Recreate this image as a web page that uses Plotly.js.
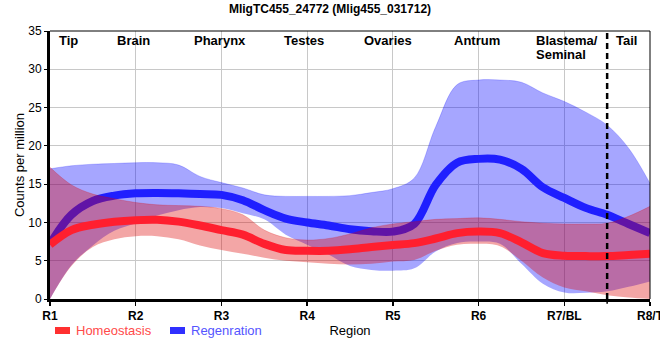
<!DOCTYPE html>
<html>
<head>
<meta charset="utf-8">
<script src="https://cdn.plot.ly/plotly-3.0.1.min.js"></script>
<style>html,body{margin:0;padding:0;background:#fff;}#chart{width:660px;height:360px;}</style>
</head>
<body>
<div id="chart"></div>
<script>
// Region positions along the body axis (R1..R8)
const regionX = [1,1.25,1.5,1.75,2,2.25,2.5,2.75,3,3.25,3.5,3.75,4,4.25,4.5,4.75,5,5.25,5.5,5.75,6,6.25,6.5,6.75,7,7.25,7.5,7.75,8];
const tickVals = [1,2,3,4,5,6,7,8];
const tickLabels = ['R1','R2','R3','R4','R5','R6','R7/BL','R8/T'];
const tissueNames = ['Tip','Brain','Pharynx','Testes','Ovaries','Antrum','Blastema/','Seminal','Tail'];
const tissueX = [1.22,1.97,2.98,3.96,4.94,5.98,6.647,6.647,7.73];

// Homeostasis
const homeoMean  = [7.1,9.0,9.7,10.1,10.3,10.35,10.1,9.6,9.0,8.4,7.2,6.4,6.3,6.3,6.5,6.8,7.05,7.3,7.9,8.6,8.8,8.6,7.4,6.0,5.65,5.6,5.6,5.75,5.9];
const homeoUpper = [17.2,14.9,13.7,13.1,12.6,12.3,12.2,12.1,11.8,11.0,9.0,8.0,7.7,7.9,8.5,9.3,9.8,10.1,10.4,10.5,10.6,10.4,10.1,9.9,9.8,9.8,9.9,10.8,12.1];
const homeoLower = [0,4.3,6.8,7.8,8.2,8.2,7.8,7.0,6.4,5.9,5.4,5.0,4.8,4.6,4.5,4.6,4.9,5.1,6.3,7.1,7.2,6.9,5.0,2.8,1.5,1.0,0.5,0.2,0];

// Regeneration
const regenMean  = [7.2,11.0,12.8,13.5,13.8,13.85,13.8,13.7,13.6,12.9,11.6,10.5,10.0,9.6,9.1,8.85,8.8,9.8,14.9,17.8,18.3,18.2,17.0,14.6,13.2,11.9,11.0,9.8,8.6];
const regenUpper = [17.0,17.4,17.6,17.7,17.8,17.8,17.5,16.0,15.2,14.5,13.6,13.4,13.4,13.4,13.5,13.9,14.4,15.8,22.5,28.0,28.6,28.6,28.3,26.9,25.8,24.4,22.7,19.7,15.1];
const regenLower = [0,4.4,7.0,8.9,9.9,10.9,11.6,12.0,11.9,11.2,10.4,8.4,7.1,5.8,4.3,3.8,3.7,4.0,6.2,7.3,7.5,7.2,4.6,2.0,0.85,0.8,1.0,1.6,2.3];

const blueFill = 'rgba(0,0,255,0.35)';
const redFill = 'rgba(220,0,0,0.35)';
const blueLine = '#1f1fff';
const redLine = '#ff1f2f';

const sp = {shape:'spline', smoothing:1};
const traces = [
  {x: regionX, y: regenLower, mode:'lines', line:Object.assign({width:0, color:blueFill}, sp), hoverinfo:'skip', showlegend:false},
  {x: regionX, y: regenUpper, mode:'lines', fill:'tonexty', fillcolor:blueFill, line:Object.assign({width:0.5, color:'rgba(0,0,255,0.4)'}, sp), hoverinfo:'skip', showlegend:false},
  {x: regionX, y: regenMean, mode:'lines', name:'Regenration', line:Object.assign({width:8, color:blueLine}, sp), showlegend:false},
  {x: regionX, y: homeoLower, mode:'lines', line:Object.assign({width:0, color:redFill}, sp), hoverinfo:'skip', showlegend:false},
  {x: regionX, y: homeoUpper, mode:'lines', fill:'tonexty', fillcolor:redFill, line:Object.assign({width:0.5, color:'rgba(220,0,0,0.4)'}, sp), hoverinfo:'skip', showlegend:false},
  {x: regionX, y: homeoMean, mode:'lines', name:'Homeostasis', line:Object.assign({width:8, color:redLine}, sp), showlegend:false}
];

const annotations = [];
for (let i = 0; i < tissueNames.length; i++) {
  const isBl = tissueNames[i] === 'Blastema/' || tissueNames[i] === 'Seminal';
  annotations.push({
    x: tissueX[i], xref:'x', yref:'paper',
    y: tissueNames[i] === 'Seminal' ? 0.912 : 0.966,
    text: '<b>' + tissueNames[i] + '</b>', showarrow:false,
    xanchor: isBl ? 'left' : 'center', yanchor:'middle',
    font:{family:'Liberation Sans, Arial', size:13, color:'#000'}
  });
}
// legend (manual)
annotations.push({x:(74-50)/600, y:(299-330)/268, xref:'paper', yref:'paper', text:'Homeostasis', showarrow:false, xanchor:'left', yanchor:'middle', font:{family:'Liberation Sans, Arial', size:13, color:'#ff4a4a'}});
annotations.push({x:(189-50)/600, y:(299-330)/268, xref:'paper', yref:'paper', text:'Regenration', showarrow:false, xanchor:'left', yanchor:'middle', font:{family:'Liberation Sans, Arial', size:13, color:'#5555ff'}});

const shapes = [
  {type:'rect', xref:'paper', yref:'paper', x0:(55-50)/600, x1:(70-50)/600, y0:(299-334)/268, y1:(299-327)/268, fillcolor:'#ff3030', line:{width:0}},
  {type:'rect', xref:'paper', yref:'paper', x0:(170-50)/600, x1:(185-50)/600, y0:(299-334)/268, y1:(299-327)/268, fillcolor:'#3030ff', line:{width:0}},
  {type:'line', xref:'x', yref:'paper', x0:7.5, x1:7.5, y0:0, y1:1, line:{color:'#000', width:2.5, dash:'6px,4px'}},
  {type:'line', xref:'x', yref:'paper', x0:7.5, x1:7.5, y0:-0.018, y1:0, line:{color:'#000', width:1.5}},
  {type:'line', xref:'paper', yref:'paper', x0:0, x1:1, y0:1, y1:1, line:{color:'#000', width:1}},
  {type:'line', xref:'paper', yref:'paper', x0:1, x1:1, y0:0, y1:1, line:{color:'#000', width:1}}
];

const layout = {
  width:660, height:360,
  margin:{l:50, r:10, t:31, b:61},
  paper_bgcolor:'#fff', plot_bgcolor:'#fff',
  font:{family:'Liberation Sans, Arial', size:12, color:'#000'},
  title:{text:'<b>MligTC455_24772 (Mlig455_031712)</b>', x:0.5, xref:'container', xanchor:'center', y:0.975, yref:'container', yanchor:'middle', font:{size:12, color:'#000'}},
  showlegend:false,
  xaxis:{
    range:[1,8], tickmode:'array', tickvals:tickVals, ticktext:tickLabels.map(t=>'<b>'+t+'</b>'),
    showgrid:true, gridcolor:'#c8c8c8', gridwidth:1, zeroline:false,
    showline:true, linecolor:'#000', linewidth:3,
    ticks:'outside', ticklen:4, tickwidth:1.5, tickcolor:'#000',
    tickfont:{size:12, color:'#000'}, ticklabeloverflow:'allow', automargin:false,
    title:{text:'Region', standoff:4, font:{size:13, color:'#000'}}
  },
  yaxis:{
    range:[0,35], tickmode:'array', tickvals:[0,5,10,15,20,25,30,35],
    showgrid:true, gridcolor:'#c8c8c8', gridwidth:1, zeroline:false,
    showline:true, linecolor:'#000', linewidth:3,
    ticks:'outside', ticklen:3, tickwidth:1, tickcolor:'#000',
    tickfont:{size:12, color:'#000'}, automargin:false,
    title:{text:'Counts per million', standoff:1, font:{size:13, color:'#000'}}
  },
  annotations: annotations,
  shapes: shapes
};

Plotly.newPlot('chart', traces, layout, {displayModeBar:false, staticPlot:true});
</script>
</body>
</html>
